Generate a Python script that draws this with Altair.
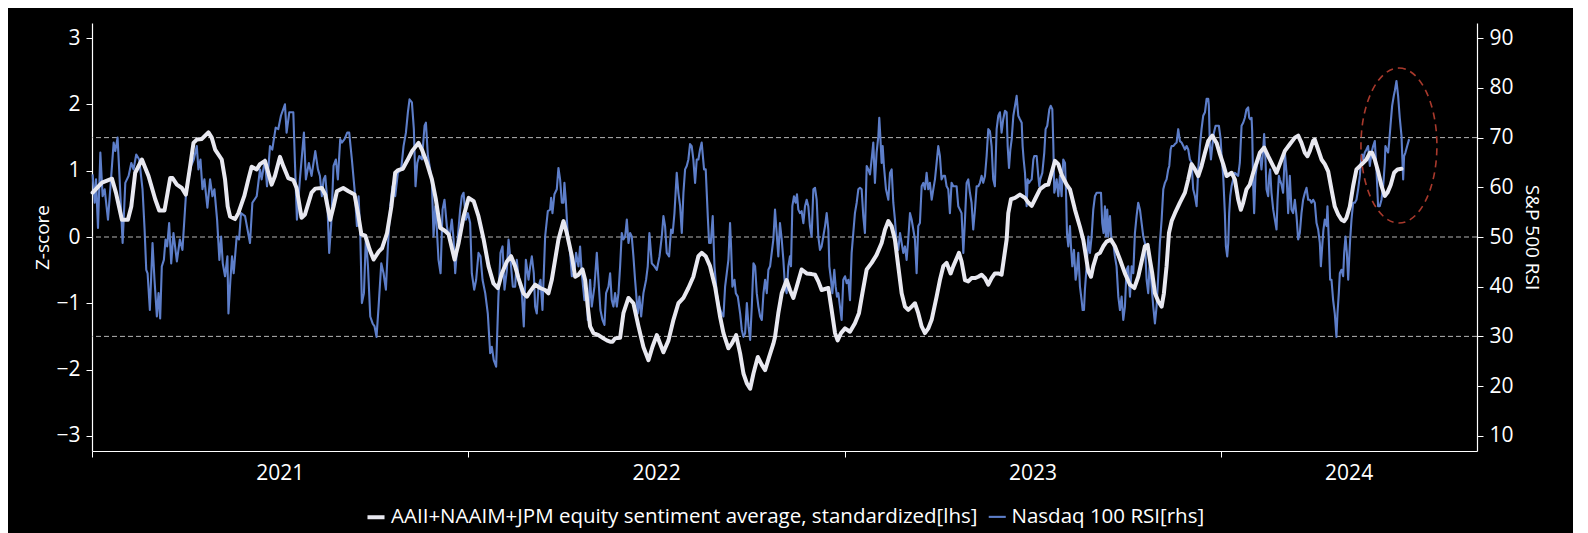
import altair as alt
import pandas as pd

# ---------------- data ----------------
# day offsets from 2021-01-01, Nasdaq 100 RSI values
rsi_day = [
    0.6, 2.6, 3.9, 5.8, 8.1, 10.3, 12.3, 15.5, 17.7, 21.0, 22.6, 24.8, 26.8, 29.7, 32.3, 35.5, 38.1, 40.3,
    42.9, 45.8, 49.0, 51.0, 52.6, 53.9, 56.1, 58.7, 60.6, 62.9, 64.5, 66.1, 67.7, 69.7, 71.3, 72.9, 74.8,
    76.8, 79.0, 82.3, 85.2, 87.7, 91.0, 93.5, 96.1, 98.7, 101.6, 103.2, 105.2, 107.1, 109.0, 111.9, 114.5,
    116.8, 118.7, 121.3, 123.5, 125.2, 126.8, 129.0, 131.3, 132.3, 134.2, 135.8, 137.4, 140.3, 142.6, 144.5,
    148.4, 153.2, 155.5, 159.7, 162.9, 164.5, 167.7, 169.7, 172.6, 174.8, 178.1, 180.6, 183.2, 187.1, 188.7,
    191.3, 195.2, 196.8, 198.7, 201.6, 205.5, 207.4, 210.3, 212.9,
    216.5, 219.1, 221.0, 222.9, 224.6, 226.2, 228.1, 230.0, 232.0, 234.2, 236.5, 238.4, 240.7, 242.3, 244.9,
    247.5, 249.4, 252.0, 254.6, 256.9, 258.5, 260.1, 261.7, 263.7, 265.6, 267.6, 269.8, 272.1, 274.0, 275.9,
    277.9, 280.5, 282.7, 285.0, 286.9, 289.2, 291.4, 294.0, 296.6, 299.8, 302.1, 304.4, 306.3, 307.9, 310.2,
    312.1, 313.7, 315.4, 317.3, 319.9, 322.5, 323.8, 325.7, 327.9, 329.6, 331.2, 332.8, 334.4, 336.0, 338.0,
    339.9, 341.8, 344.1, 346.4, 348.9, 350.6, 352.2, 354.8, 357.0, 358.6, 360.3, 362.5, 364.5, 366.7, 368.3,
    370.6, 372.5, 374.8, 376.7, 378.7, 381.3, 383.8, 386.1, 387.7, 389.6, 391.9, 394.1, 396.1, 398.1, 400.0,
    402.3, 403.9, 405.8, 408.1, 410.3, 411.9, 414.2, 416.8, 418.7, 420.7, 423.3, 424.9, 426.5, 428.4, 429.7,
    431.3, 433.0, 434.9, 436.8,
    439.4, 442.0, 444.2, 445.2, 446.5, 448.4, 450.7, 452.3, 453.9, 455.6, 457.2, 458.1, 459.4, 461.4, 463.6,
    465.3, 467.8, 469.4, 471.7, 473.3, 474.9, 477.5, 479.8, 480.7, 483.0, 484.6, 487.2, 489.5, 491.1, 493.0,
    495.0, 496.9, 498.5, 500.8, 502.4, 504.0, 505.6, 507.2, 508.9, 510.5, 512.1, 513.7, 515.3, 517.0, 518.6,
    520.2, 521.8, 523.4, 525.0, 526.6, 529.2, 530.8, 532.5, 534.7, 537.3, 538.9, 540.5, 542.8, 545.4, 547.7,
    550.3, 552.5, 554.1, 555.7, 557.3, 559.6, 561.5, 563.1, 564.8, 567.0, 568.6, 570.3, 571.9, 573.5, 575.1,
    576.7, 578.3, 579.9, 581.5, 583.1, 584.8, 586.4, 588.0, 589.6, 591.2, 593.5, 595.1, 597.1, 598.4, 600.0,
    601.9, 603.6, 605.8, 608.1, 610.7, 612.3, 613.9, 615.5, 617.1, 618.7, 619.7, 621.0, 623.0, 624.3, 626.2,
    628.5, 630.1, 631.7, 633.3, 635.0, 636.6, 638.2, 639.8, 641.4, 643.0, 644.6, 646.2, 647.9, 649.5, 651.1,
    652.7, 654.3, 655.9, 657.5, 659.1, 660.7,
    662.3, 663.9, 665.5, 667.1, 668.8, 670.4, 672.0, 673.6, 675.2, 676.8, 677.8, 679.1, 680.7, 682.3, 683.6,
    684.9, 686.5, 688.1, 689.8, 691.4, 693.0, 694.6, 696.2, 697.8, 699.5, 701.1, 702.7, 704.3, 705.9, 707.5,
    709.1, 710.8, 712.4, 714.0, 715.0, 716.6, 717.9, 719.8, 721.1, 722.4, 723.7, 725.3, 726.9, 728.5, 730.2,
    731.8, 733.4, 735.0, 736.6, 738.2, 739.8, 741.5, 743.1, 744.7, 746.3, 747.9, 749.5, 751.2, 752.8, 754.4,
    756.0, 757.6, 759.2, 760.8, 762.5, 763.4, 764.4, 765.7, 766.7, 767.9, 769.9, 772.2, 773.8, 775.4, 777.0,
    778.6, 780.2, 781.8, 783.5, 785.1, 786.7, 788.3, 789.9, 791.5, 793.2, 794.8, 796.4, 798.0, 799.6, 801.2,
    802.8, 804.5, 806.1, 807.7, 809.3, 810.9, 812.5, 814.2, 815.8, 817.4, 819.0, 820.6, 822.2, 823.8, 825.5,
    827.1, 828.7, 830.3, 831.9, 833.5, 835.2, 836.8, 838.4, 840.0, 841.6, 843.2, 844.9, 846.5, 848.1, 849.7,
    851.3, 852.9, 854.5, 856.2, 857.8, 859.4, 861.0, 862.6, 864.2, 865.9, 867.5, 869.1, 870.7, 872.3, 873.9,
    875.5, 877.2, 878.8, 880.4, 882.0, 883.6,
    885.3, 886.9, 887.9, 889.2, 890.5, 891.8, 893.4, 895.0, 896.6, 898.2, 899.8, 901.5, 902.4, 903.4, 904.7,
    906.3, 907.3, 908.6, 909.5, 911.2, 912.8, 913.7, 916.0, 917.6, 918.6, 919.5, 921.5, 923.4, 924.7, 926.3,
    928.3, 929.6, 931.2, 932.2, 933.1, 933.8, 935.4, 937.0, 938.6, 940.2, 941.8, 943.5, 944.4, 945.4, 946.7,
    948.3, 949.3, 950.6, 952.2, 953.8, 954.8, 956.4, 958.0, 959.6, 960.6, 961.9, 962.8, 964.5, 966.1, 967.7,
    969.3, 970.9, 972.5, 974.2, 975.8, 978.4, 979.6, 980.9, 982.2, 983.2, 984.5, 985.5, 987.1, 988.7, 990.3,
    991.9, 993.5, 995.2, 996.8, 998.4, 1000.0, 1001.6, 1003.2, 1004.8, 1006.5, 1008.1, 1009.7, 1011.3, 1012.9,
    1014.5, 1016.2, 1017.8, 1019.4, 1021.0, 1022.6, 1024.2, 1025.8, 1027.5, 1029.1, 1030.7, 1032.3, 1033.9,
    1035.5, 1037.2, 1038.8, 1040.4, 1042.0, 1043.6, 1044.6, 1045.9, 1046.9, 1048.5, 1050.1, 1051.7, 1053.3,
    1054.9, 1056.5, 1058.2, 1059.8, 1061.4, 1063.0, 1064.6, 1066.2, 1067.8, 1069.5, 1071.1, 1072.7, 1074.3,
    1075.9, 1077.5, 1079.2, 1080.8, 1082.4, 1083.0, 1084.0, 1085.0, 1086.3, 1087.9, 1089.5, 1091.1, 1092.7,
    1094.4, 1095.3, 1096.9, 1098.5, 1099.5, 1100.8, 1101.8, 1102.7, 1103.7, 1105.0, 1106.6,
    1108.2, 1109.8, 1111.4, 1113.0, 1114.7, 1116.3, 1117.9, 1119.5, 1121.1, 1122.1, 1123.1, 1124.4, 1125.0,
    1126.0, 1126.9, 1128.2, 1129.5, 1130.8, 1132.4, 1134.0, 1135.7, 1136.6, 1137.9, 1138.9, 1140.5, 1141.5,
    1142.4, 1143.7, 1145.4, 1147.0, 1148.6, 1149.6, 1150.9, 1151.8, 1153.4, 1155.0, 1156.7, 1158.3, 1159.9,
    1161.5, 1163.1, 1164.7, 1166.4, 1168.0, 1169.6, 1171.2, 1172.8, 1174.4, 1176.1, 1177.7, 1179.3, 1180.9,
    1182.5, 1184.1, 1185.7, 1187.4, 1189.0, 1190.6, 1191.6, 1192.9, 1194.1, 1195.4, 1197.1, 1198.0, 1199.3,
    1200.6, 1201.9, 1203.5, 1205.1, 1206.7, 1207.7, 1209.0, 1210.0, 1211.6, 1213.2, 1214.2, 1215.5, 1216.8,
    1218.1, 1219.0, 1220.0, 1221.3, 1222.9, 1224.5, 1226.1, 1227.7, 1229.4, 1230.3, 1231.6, 1232.6, 1234.2,
    1235.8, 1237.4, 1239.1, 1240.7, 1242.3, 1243.9, 1245.5, 1247.1, 1248.7, 1250.4, 1252.0, 1253.6, 1254.2,
    1255.5, 1256.8, 1257.8, 1259.1, 1260.7, 1262.3, 1263.3, 1264.9, 1266.5, 1268.1, 1269.8, 1271.4, 1272.3,
    1273.6, 1275.3, 1277.2,
]
rsi_val = [
    62.6, 56.9, 61.6, 51.8, 67.0, 58.2, 59.6, 53.5, 59.6, 69.0, 67.3, 70.0, 61.6, 48.8, 60.9, 62.3, 64.9, 63.6,
    66.6, 65.6, 59.6, 51.5, 43.4, 42.7, 35.3, 48.8, 41.4, 34.0, 38.7, 33.6, 44.1, 45.4, 49.5, 48.1, 52.8,
    44.7, 50.8, 45.1, 49.5, 47.4, 58.2, 61.6, 64.3, 65.6, 68.3, 63.6, 65.6, 59.6, 61.6, 55.9, 61.6,
    58.2, 59.6, 53.5, 45.4, 50.1, 44.7, 42.1, 46.1, 34.6, 41.4, 46.1, 42.7, 50.1, 49.5, 54.8,
    54.2, 48.8, 56.9, 58.2, 63.6, 61.6, 65.6, 60.2, 68.3, 67.6, 72.0, 71.7, 74.4, 76.7, 71.0,
    75.1, 75.1, 64.9, 53.5, 61.6, 71.0, 61.6, 64.9, 62.3,
    67.3, 63.6, 62.3, 58.2, 61.6, 62.3, 57.5, 46.8, 52.8, 64.3, 65.6, 61.6, 69.7, 69.0, 69.7,
    71.0, 71.0, 65.6, 59.6, 52.2, 58.2, 50.8, 36.7, 38.7, 50.1, 44.1, 34.0, 32.6, 32.0, 29.9,
    36.0, 44.7, 42.7, 39.4, 48.1, 56.2, 60.2, 58.2, 62.9, 63.6, 68.3, 71.0, 75.1, 77.7, 77.1,
    71.7, 60.2, 64.9, 66.3, 65.6, 72.4, 73.0, 66.3, 63.6, 60.9, 50.1, 56.2, 51.5, 45.4, 42.7,
    55.5, 57.5, 52.2, 49.5, 53.5, 49.5, 42.7, 50.1, 55.5, 58.2, 58.9, 53.5, 54.8, 52.8, 42.7,
    39.4, 41.4, 46.8, 46.1, 41.4, 38.7, 34.6, 26.6, 27.9, 25.2, 23.9, 38.0, 46.8, 48.1, 39.4,
    43.4, 49.5, 45.4, 40.0, 40.0, 45.4, 40.7, 38.7, 32.0, 45.4, 41.4, 44.1, 46.1, 42.7, 36.0,
    34.6, 40.0, 41.4, 35.3,
    50.1, 55.2, 55.5, 57.9, 54.8, 58.6, 59.6, 63.9, 61.6, 56.9, 56.9, 60.9, 57.5, 50.1, 46.8,
    42.1, 42.7, 46.8, 44.1, 48.1, 42.7, 37.3, 38.7, 33.3, 41.4, 36.0, 40.0, 46.8, 41.4, 35.3,
    33.3, 32.3, 38.7, 40.0, 42.7, 37.3, 36.0, 38.7, 36.0, 38.7, 44.1, 50.8, 49.5, 50.1, 53.5,
    48.8, 50.8, 50.1, 46.1, 41.4, 34.6, 38.0, 34.0, 38.7, 41.4, 44.1, 50.8, 44.7, 44.1, 43.4,
    46.1, 50.1, 54.2, 52.2, 46.8, 46.1, 51.5, 50.8, 54.8, 62.9, 58.9, 56.2, 50.8, 58.9, 63.6,
    64.3, 65.6, 68.7, 68.3, 65.6, 60.9, 65.6, 65.6, 67.6, 69.0, 63.6, 63.6, 54.2, 48.8, 48.8,
    54.2, 44.1, 38.7, 36.0, 34.6, 34.0, 40.0, 42.7, 45.4, 52.8, 48.1, 40.0, 41.4, 38.7, 38.0,
    34.6, 31.3, 29.9, 30.6, 36.7, 32.0, 29.3, 36.0, 44.7, 44.1, 38.7, 36.0, 34.0, 33.3, 38.7,
    41.4, 38.7, 43.4, 44.1, 46.8, 49.5,
    55.5, 50.8, 46.1, 52.8, 49.5, 45.4, 40.0, 38.7, 44.1, 46.1, 44.1, 56.2, 58.2, 56.9, 58.6,
    55.5, 54.8, 55.2, 52.8, 56.2, 57.5, 56.2, 52.2, 50.1, 59.6, 59.9, 57.5, 50.1, 47.4, 48.1,
    50.1, 52.2, 54.8, 51.5, 44.1, 41.4, 38.7, 43.4, 40.0, 38.0, 38.7, 36.0, 33.3, 41.4, 42.1,
    40.7, 41.4, 37.3, 46.8, 50.8, 54.8, 56.9, 59.6, 59.9, 59.6, 54.2, 50.8, 64.3, 63.6, 62.6,
    65.6, 69.0, 60.9, 67.0, 70.3, 74.0, 70.3, 64.9, 68.3, 64.3, 59.6, 57.5, 62.9, 63.6, 56.9,
    53.5, 48.8, 47.4, 50.8, 48.8, 46.8, 48.1, 45.4, 49.5, 54.8, 53.5, 51.5, 49.5, 42.7, 52.2,
    52.8, 60.2, 60.9, 59.6, 62.9, 59.6, 60.9, 57.5, 59.6, 61.6, 64.9, 68.3, 66.3, 61.6, 62.3,
    62.3, 60.2, 59.6, 54.8, 60.9, 60.2, 60.2, 60.2, 56.2, 55.5, 54.8, 46.8, 53.5, 60.9, 61.6,
    58.9, 56.9, 51.5, 55.5, 60.2, 60.2, 60.9, 62.3, 60.9, 62.3, 66.3, 71.7, 71.3, 68.3, 61.6,
    60.2, 71.7, 74.4, 75.1, 71.0, 73.7,
    75.4, 75.1, 68.3, 63.9, 67.6, 69.7, 74.4, 76.4, 78.4, 74.4, 73.7, 73.0, 68.3, 65.6, 62.9,
    56.2, 61.6, 60.9, 61.2, 61.6, 65.6, 66.3, 66.3, 62.3, 60.2, 61.6, 62.9, 67.0, 71.7, 72.4,
    75.7, 76.4, 75.7, 68.3, 58.9, 59.6, 61.6, 58.2, 62.3, 58.2, 65.6, 64.9, 59.6, 50.8, 48.1,
    52.2, 48.1, 44.1, 47.4, 41.4, 42.7, 46.8, 40.0, 37.3, 35.3, 35.3, 39.4, 44.1, 50.1, 46.8,
    50.1, 55.5, 58.2, 58.9, 58.9, 58.9, 52.8, 50.8, 56.2, 50.1, 55.5, 50.1, 54.2, 48.8, 48.8,
    46.1, 44.1, 38.0, 35.3, 38.0, 33.3, 36.0, 43.4, 44.1, 38.0, 44.1, 42.7, 50.8, 54.2,
    56.9, 55.5, 52.8, 50.1, 48.8, 41.4, 38.7, 45.4, 40.0, 36.0, 32.6, 36.0, 42.1,
    48.8, 53.5, 59.6, 60.9, 61.6, 63.6, 64.3, 67.6, 68.3, 68.3, 68.7, 69.0, 71.7,
    69.3, 69.0, 68.3, 67.6, 68.3, 67.6, 65.6, 65.0, 59.6, 58.2, 56.2, 63.6, 68.3,
    71.7, 74.4, 75.1, 77.8, 77.8, 76.4, 68.3, 65.6, 68.3, 71.0, 72.4, 72.4, 72.4,
    69.7, 66.3, 62.3, 54.8, 48.1, 46.1, 48.8, 54.8, 58.2, 60.2, 61.6,
    62.9, 62.6, 62.3, 64.9, 72.4, 73.0, 74.0, 75.7, 76.1, 74.0, 73.7, 74.0, 71.3,
    60.2, 54.8, 62.3, 64.3, 65.6, 67.0, 63.6, 67.6, 70.7, 65.6, 59.6, 58.2, 62.3,
    63.6, 58.9, 55.5, 53.5, 51.5, 57.5, 62.3, 61.6, 60.6, 58.9, 67.0, 62.9, 54.8,
    62.3, 55.5, 54.8, 57.5, 54.2, 49.5, 50.8, 54.8, 57.5, 58.9, 59.9, 57.5, 57.5,
    56.9, 57.5, 56.9, 52.8, 51.5, 48.8, 44.1, 48.1, 51.5, 53.5, 52.2, 56.2, 49.5,
    41.4, 41.4, 37.3, 34.6, 29.9, 34.6, 38.7, 42.7, 43.4, 42.1, 46.8, 50.1, 46.8,
    41.4, 45.4, 49.5, 53.5, 56.9, 56.9, 57.5, 59.6, 62.3, 64.9, 66.6, 65.6, 67.0,
    67.6, 68.3, 64.3, 67.0, 68.3, 69.3, 63.6, 56.2, 56.2, 57.5, 60.2, 64.9, 68.3,
    67.6, 67.0, 69.0, 72.4, 76.4, 78.4, 79.4, 81.4, 78.4, 74.0, 70.3, 61.6, 66.3,
    67.0, 68.3, 69.7,
]

# day offsets from 2021-01-01, sentiment z-score
sent_day = [
    0.6, 9.7, 19.4, 23.2, 29.0, 34.8, 38.1, 41.9, 48.4, 54.8, 61.3, 65.2, 70.3, 75.8, 78.1, 82.3, 87.1,
    91.0, 95.2, 98.4, 101.6, 106.5, 109.7, 112.9, 116.1, 119.4, 125.8, 129.0, 131.6, 133.9, 138.7, 141.9,
    147.7, 151.6, 154.8, 159.7, 162.9, 167.7, 174.2, 177.4, 182.3, 185.5, 190.3, 195.2, 198.4, 203.2, 206.5,
    212.9,
    216.5, 222.9, 226.2, 231.0, 234.2, 237.5, 243.6, 248.7, 254.6, 257.9, 261.2, 265.0, 269.2, 273.1, 278.0,
    281.2, 286.1, 290.3, 294.0, 296.9, 301.4, 305.6, 310.5, 316.6, 319.9, 324.7, 329.6, 333.4, 337.6, 342.5,
    345.8, 351.6, 355.5, 360.3, 365.2, 370.1, 374.8, 379.8, 384.5, 389.3, 393.6, 397.4, 402.3, 406.4, 410.3,
    413.5, 418.4, 421.7, 424.9, 429.7, 434.6,
    439.4, 442.6, 445.8, 449.1, 452.3, 457.2, 460.4, 465.3, 468.5, 471.7, 475.6, 478.2, 480.7, 483.0, 486.2,
    491.1, 495.9, 499.2, 502.4, 504.7, 507.2, 512.1, 515.3, 520.2, 525.0, 529.9, 534.7, 539.6, 543.4, 547.7,
    550.9, 554.1, 559.0, 563.8, 568.6, 573.5, 578.3, 583.1, 588.0, 591.2, 595.1, 599.3, 604.2, 609.0, 612.3,
    617.1, 620.4, 624.6, 628.5, 631.7, 635.0, 638.2, 641.4, 645.6, 649.5, 652.7, 656.6, 660.7,
    662.3, 665.5, 668.8, 673.6, 676.8, 680.1, 683.3, 688.1, 693.0, 697.8, 701.1, 704.3, 707.5, 714.0, 717.2,
    720.5, 723.0, 726.3, 730.2, 735.0, 739.8, 743.7, 747.0, 751.2, 756.0, 760.8, 765.7, 768.9, 772.2, 775.4,
    778.6, 781.8, 785.1, 788.3, 791.5, 794.8, 798.0, 801.2, 804.5, 807.7, 810.9, 814.2, 819.0, 822.2, 825.5,
    828.7, 832.6, 835.2, 840.7, 843.2, 846.5, 849.7, 852.9, 856.2, 859.4, 862.6, 865.9, 869.1, 872.3, 875.5,
    878.8, 882.0,
    886.9, 888.5, 891.1, 895.0, 899.8, 904.7, 907.9, 911.2, 914.4, 919.2, 924.1, 927.3, 930.5, 933.8, 937.0,
    940.2, 945.1, 948.3, 953.2, 958.0, 961.2, 963.8, 966.1, 968.7, 970.9, 974.2, 977.4, 980.6, 983.8, 988.0,
    991.9, 996.8, 1001.6, 1006.5, 1010.7, 1014.5, 1017.8, 1021.0, 1023.6, 1025.8, 1028.1, 1030.7, 1033.9,
    1037.2, 1039.4, 1042.0, 1044.3, 1046.9, 1050.1, 1054.9, 1059.8, 1063.0, 1066.2, 1069.5, 1072.7, 1075.9,
    1079.2, 1082.4, 1086.3, 1090.5, 1093.7, 1096.9, 1100.2, 1105.0,
    1108.2, 1111.4, 1114.0, 1116.3, 1119.5, 1122.7, 1126.0, 1129.2, 1132.4, 1136.6, 1140.5, 1144.4, 1148.6,
    1151.8, 1156.7, 1161.5, 1166.4, 1169.6, 1172.8, 1176.1, 1178.6, 1180.9, 1184.1, 1185.7, 1189.0, 1192.2,
    1195.4, 1198.7, 1201.9, 1205.1, 1208.4, 1211.6, 1214.2, 1216.4, 1219.7, 1222.9, 1226.1, 1229.4, 1232.6,
    1235.8, 1239.1, 1241.3, 1243.9, 1247.1, 1250.4, 1253.6, 1256.2, 1259.4, 1262.6, 1265.9, 1269.8,
]
sent_val = [
    0.67, 0.82, 0.88, 0.67, 0.26, 0.26, 0.46, 0.97, 1.17, 0.92, 0.57, 0.40, 0.40, 0.89, 0.89, 0.79, 0.74,
    0.64, 1.07, 1.42, 1.47, 1.48, 1.53, 1.58, 1.50, 1.32, 1.17, 0.87, 0.46, 0.31, 0.27, 0.36,
    0.62, 0.87, 1.06, 1.02, 1.10, 1.15, 0.79, 0.92, 1.21, 1.07, 0.89, 0.86, 0.74, 0.29, 0.34,
    0.67,
    0.73, 0.74, 0.64, 0.26, 0.46, 0.69, 0.74, 0.69, 0.64, 0.36, 0.04, 0.02, -0.19, -0.34, -0.22,
    -0.17, 0.06, 0.46, 0.97, 1.01, 1.03, 1.15, 1.30, 1.42, 1.32, 1.12, 0.87, 0.57, 0.14, 0.09,
    0.04, -0.34, -0.09, 0.31, 0.59, 0.54, 0.31, -0.04, -0.44, -0.70, -0.77, -0.55, -0.37, -0.29, -0.44,
    -0.62, -0.85, -0.90, -0.82, -0.72, -0.77,
    -0.80, -0.85, -0.65, -0.34, -0.04, 0.24, 0.06, -0.29, -0.60, -0.57, -0.49, -0.65, -1.05, -1.35, -1.45,
    -1.48, -1.53, -1.56, -1.58, -1.58, -1.53, -1.52, -1.15, -0.92, -1.00, -1.35, -1.66, -1.86, -1.66, -1.48,
    -1.61, -1.74, -1.56, -1.25, -1.00, -0.92, -0.77, -0.60, -0.29, -0.24, -0.29, -0.44, -0.75, -1.20, -1.45,
    -1.68, -1.61, -1.48, -1.76, -2.06, -2.21, -2.29, -2.06, -1.81, -1.93, -2.01, -1.81, -1.61,
    -1.51, -1.15, -0.85, -0.65, -0.80, -0.92, -0.75, -0.49, -0.55, -0.56, -0.57, -0.67, -0.80, -0.77, -1.10,
    -1.45, -1.56, -1.45, -1.38, -1.43, -1.30, -1.15, -0.85, -0.49, -0.39, -0.27, -0.09, 0.11, 0.24, 0.16,
    -0.04, -0.44, -0.85, -1.05, -1.10, -1.05, -1.00, -1.15, -1.35, -1.45, -1.38, -1.25, -0.90, -0.65, -0.44,
    -0.39, -0.55, -0.44, -0.24, -0.37, -0.65, -0.67, -0.62, -0.62, -0.60, -0.57, -0.62, -0.72, -0.62, -0.55,
    -0.55, -0.57,
    -0.04, 0.36, 0.57, 0.59, 0.64, 0.59, 0.52, 0.47, 0.57, 0.72, 0.78, 0.79, 0.97, 1.15, 1.10,
    0.94, 0.79, 0.72, 0.41, 0.15, -0.04, -0.29, -0.52, -0.60, -0.44, -0.27, -0.24, -0.14, -0.07, -0.04,
    -0.14, -0.34, -0.55, -0.72, -0.77, -0.60, -0.37, -0.14, -0.12, -0.34, -0.55, -0.85, -0.97,
    -1.05, -0.85, -0.44, 0.06, 0.24, 0.36, 0.52, 0.67, 0.87, 1.10, 1.02, 0.92, 1.07,
    1.27, 1.45, 1.53, 1.42, 1.25, 1.10, 0.92, 0.97,
    0.87, 0.57, 0.41, 0.52, 0.72, 0.79, 0.97, 1.12, 1.27, 1.35, 1.22, 1.10, 0.97,
    1.10, 1.30, 1.40, 1.50, 1.53, 1.42, 1.27, 1.22, 1.30, 1.45, 1.47, 1.32, 1.17,
    1.10, 0.99, 0.72, 0.46, 0.34, 0.26, 0.24, 0.29, 0.46, 0.77, 1.02, 1.07, 1.12,
    1.17, 1.27, 1.27, 1.17, 0.99, 0.77, 0.62, 0.67, 0.79, 0.97, 1.02, 1.03,
]

grid_rsi = [30, 50, 70]                 # dashed reference levels (RSI 30/50/70 = z -1.5/0/1.5)
z_ticks = [-3, -2, -1, 0, 1, 2, 3]
rsi_ticks = [10, 20, 30, 40, 50, 60, 70, 80, 90]
years = [2021, 2022, 2023, 2024]
x_start = "2021-01-01"
x_end = "2024-09-05"
highlight_day = [1267.3]                # centre of the red dashed ellipse
highlight_z = [1.38]

S1 = "AAII+NAAIM+JPM equity sentiment average, standardized[lhs]"
S2 = "Nasdaq 100 RSI[rhs]"

# ---------------- build tables ----------------
base = pd.Timestamp(x_start)
end = pd.Timestamp(x_end)


def to_dates(days):
    return [(base + pd.Timedelta(days=float(d))).strftime("%Y-%m-%dT%H:%M:%S") for d in days]


df_rsi = pd.DataFrame({"date": to_dates(rsi_day), "rsi": rsi_val, "series": S2})
df_sent = pd.DataFrame({"date": to_dates(sent_day), "z": sent_val, "series": S1})
df_grid = pd.DataFrame({"rsi": grid_rsi})
df_hl = pd.DataFrame({"date": to_dates(highlight_day), "z": highlight_z})

mids, labels = [], []
for y in years:
    s = pd.Timestamp(f"{y}-01-01")
    e = min(pd.Timestamp(f"{y + 1}-01-01"), end)
    mids.append((s + (e - s) / 2).strftime("%Y-%m-%dT%H:%M:%S"))
    labels.append(str(y))
df_years = pd.DataFrame({"date": mids, "label": labels})

# ---------------- style ----------------
FONT = "Open Sans"
WHITE = "#e8e8f0"
BLUE = "#5d7ec9"
GRID = "#b4b4b4"
RED = "#a8392c"
W, H = 1385, 428

z_dom = [-3.23, 3.23]
rsi_dom = [50 + 40 / 3 * z_dom[0], 50 + 40 / 3 * z_dom[1]]

x_scale = alt.Scale(domain=[alt.DateTime(year=2021, month=1, date=1),
                            alt.DateTime(year=2024, month=9, date=5)])
x_axis = alt.Axis(values=[alt.DateTime(year=y, month=1, date=1) for y in years],
                  labels=False, ticks=True, tickSize=6, tickColor="white", domainColor="white",
                  grid=False, title=None)
X = alt.X("date:T", scale=x_scale, axis=x_axis)

color_scale = alt.Scale(domain=[S1, S2], range=[WHITE, BLUE])
width_scale = alt.Scale(domain=[S1, S2], range=[4.0, 2.1])
legend = alt.Legend(orient="none", legendX=273, legendY=483, direction="horizontal", title=None,
                    symbolType="stroke", symbolSize=290, labelFontSize=20.5, labelColor="white",
                    labelFont=FONT, labelFontWeight="normal", labelLimit=0, columnPadding=6,
                    labelOffset=4)

rsi_scale = alt.Scale(domain=rsi_dom, nice=False, zero=False)
z_scale = alt.Scale(domain=z_dom, nice=False, zero=False)

right_axis = alt.Axis(orient="right", values=rsi_ticks, title="S&P 500 RSI", tickSize=6,
                      labelPadding=6, titlePadding=8, grid=False, titleAngle=90)
left_axis = alt.Axis(orient="left", values=z_ticks, title="Z-score", tickSize=6,
                     labelPadding=6, titlePadding=3, grid=False)

grid = alt.Chart(df_grid).mark_rule(color=GRID, strokeWidth=1, strokeDash=[5, 3]).encode(
    y=alt.Y("rsi:Q", scale=rsi_scale, axis=right_axis)
)
blue = alt.Chart(df_rsi).mark_line(strokeJoin="round").encode(
    x=X,
    y=alt.Y("rsi:Q", scale=rsi_scale, axis=right_axis),
    color=alt.Color("series:N", scale=color_scale, legend=legend),
    strokeWidth=alt.StrokeWidth("series:N", scale=width_scale, legend=legend),
)
right_group = alt.layer(grid, blue)

white = alt.Chart(df_sent).mark_line(strokeJoin="round", strokeCap="round").encode(
    x=X,
    y=alt.Y("z:Q", scale=z_scale, axis=left_axis),
    color=alt.Color("series:N", scale=color_scale, legend=legend),
    strokeWidth=alt.StrokeWidth("series:N", scale=width_scale, legend=legend),
)

ELLIPSE = ("M 0,-1 C 0.2706,-1 0.49,-0.5523 0.49,0 C 0.49,0.5523 0.2706,1 0,1 "
           "C -0.2706,1 -0.49,0.5523 -0.49,0 C -0.49,-0.5523 -0.2706,-1 0,-1 Z")
ring = alt.Chart(df_hl).mark_point(shape=ELLIPSE, size=155 ** 2, filled=False, stroke=RED,
                                   strokeWidth=1.6, strokeDash=[7, 5], opacity=1).encode(
    x=X, y=alt.Y("z:Q", scale=z_scale, axis=left_axis)
)
year_text = alt.Chart(df_years).mark_text(color="white", fontSize=21, font=FONT,
                                          baseline="middle", align="center").encode(
    x=X, y=alt.value(H + 23), text="label:N"
)
left_group = alt.layer(white, ring, year_text)

chart = alt.layer(right_group, left_group).resolve_scale(y="independent").properties(
    width=W, height=H, background="black",
    autosize=alt.AutoSizeParams(type="none"),
    padding={"left": 84, "top": 15, "right": 96, "bottom": 82},
).configure_view(stroke=None).configure_axis(
    labelColor="white", titleColor="white", labelFont=FONT, titleFont=FONT,
    labelFontSize=21, titleFontSize=19, labelFontWeight="normal", titleFontWeight="normal",
    domainColor="white", tickColor="white", domainWidth=1.2,
)

chart.save("out.html", embed_options={"renderer": "svg", "actions": False})
